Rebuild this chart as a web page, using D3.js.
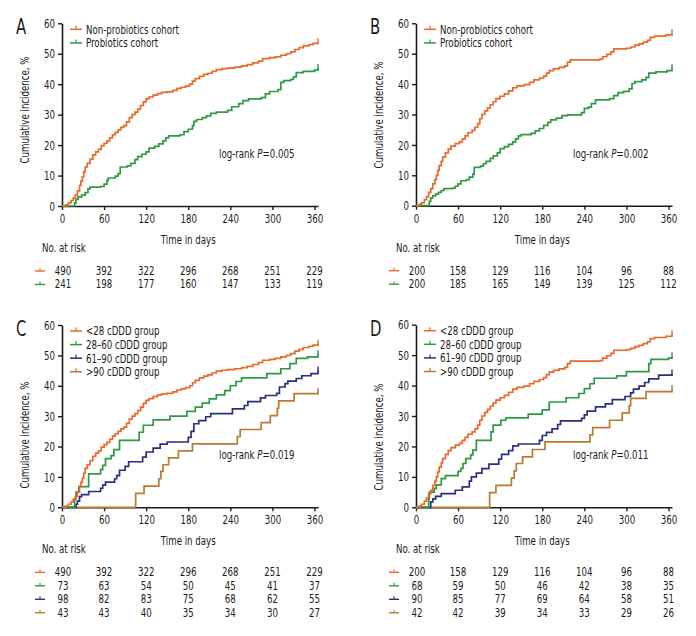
<!DOCTYPE html>
<html><head><meta charset="utf-8">
<script src="https://cdn.jsdelivr.net/npm/d3@7"></script>
<style>
html,body{margin:0;padding:0;background:#fff;}
svg text{font-family:"DejaVu Sans Condensed","Liberation Sans Narrow",sans-serif;font-stretch:condensed;fill:#1a1a1a;}
</style></head>
<body>
<svg id="chart" width="696" height="636"></svg>
<script>
// ---------- DATA ----------
const xTicks = [0, 60, 120, 180, 240, 300, 360];
const yTicks = [0, 10, 20, 30, 40, 50, 60];

// Panel A / C (full cohort: non-probiotics / <28 cDDD, n=490)
const nonProbiotics490 = [[0,0],[5,0.4],[9,1.0],[13,1.8],[16,2.6],[19,3.6],[22,5.0],[25,6.8],[27,8.2],[29,9.6],[31,11.2],[33,12.8],[36,14.0],[40,15.4],[44,16.8],[48,17.8],[52,18.6],[56,19.8],[60,20.6],[64,21.4],[68,22.4],[72,23.4],[76,24.2],[80,25.0],[84,25.8],[88,26.4],[92,27.6],[96,29.0],[100,30.0],[104,30.8],[108,31.8],[112,33.0],[116,34.2],[120,35.2],[124,35.8],[130,36.4],[136,36.9],[142,37.3],[150,37.5],[158,38.0],[164,38.6],[170,39.0],[176,39.4],[182,40.0],[186,41.0],[190,41.8],[196,42.6],[202,43.2],[208,43.6],[214,44.2],[220,44.8],[228,45.1],[236,45.3],[246,45.6],[256,46.0],[264,46.4],[272,47.0],[280,47.6],[286,48.4],[296,48.7],[304,49.0],[312,49.5],[320,50.0],[326,50.6],[332,51.4],[338,52.0],[344,52.6],[352,53.0],[358,53.4],[365,53.8]];
const probiotics241 = [[0,0],[16,0],[18,1.0],[20,2.2],[23,3.0],[28,3.6],[33,4.4],[37,5.6],[40,6.2],[55,6.4],[60,7.2],[64,8.4],[66,9.2],[76,9.8],[80,10.6],[83,12.8],[93,13.2],[98,14.0],[104,15.2],[108,16.2],[114,17.0],[120,17.8],[124,19.0],[132,19.6],[138,20.4],[144,21.4],[148,22.4],[152,23.0],[168,23.4],[174,24.4],[180,25.2],[186,26.4],[188,27.8],[192,28.4],[200,29.0],[206,29.6],[212,30.4],[220,30.8],[236,31.4],[242,32.6],[252,33.6],[258,34.6],[266,35.2],[284,35.6],[290,36.8],[296,37.6],[308,38.2],[312,40.6],[316,41.2],[326,41.6],[330,42.4],[334,43.8],[344,44.2],[360,44.6],[365,45.3]];

// Panel B / D (matched: n=200 each)
const nonProbiotics200 = [[0,0],[5,0.5],[8,1.0],[12,2.0],[15,3.0],[18,4.4],[21,5.6],[24,7.2],[27,8.6],[29,10.0],[31,11.6],[33,13.2],[36,14.6],[38,16.0],[42,17.4],[46,18.6],[50,19.6],[56,20.4],[62,21.0],[66,22.0],[70,23.0],[74,24.0],[80,24.8],[84,25.8],[88,27.0],[91,28.6],[94,30.0],[98,31.2],[102,32.2],[106,33.2],[110,34.2],[114,35.2],[120,36.0],[126,36.8],[132,37.8],[138,38.8],[144,39.4],[154,39.8],[162,40.6],[168,41.4],[176,42.0],[182,42.6],[186,43.6],[190,44.4],[196,45.0],[204,45.5],[212,46.0],[216,47.2],[220,48.0],[262,48.2],[266,49.0],[272,49.8],[278,50.6],[282,51.6],[300,51.8],[306,52.2],[312,52.8],[318,53.2],[324,53.8],[330,54.4],[334,55.4],[340,55.8],[356,56.2],[365,56.8]];
const probiotics200 = [[0,0],[17,0],[19,1.4],[21,2.6],[24,3.2],[28,3.8],[32,4.4],[36,5.0],[40,5.6],[52,5.8],[56,6.4],[60,7.2],[64,8.2],[72,8.6],[76,9.4],[81,10.4],[83,12.6],[92,13.0],[96,13.8],[100,14.6],[106,15.6],[110,16.4],[116,17.4],[120,18.8],[126,19.4],[132,20.2],[138,21.0],[142,22.0],[146,23.0],[150,23.4],[164,23.8],[170,24.6],[176,25.4],[182,26.4],[188,27.4],[192,28.2],[200,28.8],[208,29.6],[216,29.9],[236,30.6],[240,32.0],[246,32.4],[250,33.6],[256,34.8],[276,35.2],[282,36.2],[288,37.2],[296,37.6],[304,38.4],[308,40.2],[312,40.8],[322,41.4],[328,42.2],[332,43.6],[342,44.0],[358,44.4],[365,45.2]];

// Panel C dose groups
const cddd28to60_C = [[0,0],[17,0],[18,2.8],[20,5.0],[24,6.8],[38,11.0],[55,12.4],[58,13.8],[62,16.0],[70,17.0],[74,19.0],[82,22.0],[110,24.7],[116,27.0],[130,28.8],[154,30.0],[178,31.6],[190,33.0],[200,34.3],[210,35.7],[220,37.0],[232,38.4],[240,40.0],[248,41.4],[256,42.6],[292,44.0],[312,45.6],[325,47.3],[334,49.0],[350,49.5],[365,50.4]];
const cddd61to90_C = [[0,0],[19,0],[20,1.0],[22,2.0],[25,3.5],[28,4.2],[38,5.2],[55,6.2],[58,7.3],[62,8.3],[75,9.4],[78,10.4],[82,12.2],[90,13.5],[95,15.0],[115,16.5],[120,18.2],[130,19.5],[140,20.8],[150,21.5],[180,23.0],[184,25.0],[188,27.5],[195,28.5],[205,29.8],[212,30.8],[243,32.4],[260,33.5],[265,34.8],[283,36.0],[290,36.8],[306,37.5],[310,39.6],[318,40.7],[322,41.5],[334,42.4],[342,43.3],[355,44.0],[365,45.0]];
const cdddOver90_C = [[0,0],[104,0],[105,4.6],[117,7.0],[138,9.4],[141,11.8],[144,14.0],[152,16.3],[166,18.6],[186,20.9],[250,23.3],[254,25.6],[284,27.9],[297,30.2],[307,32.6],[309,35.0],[331,37.4],[365,38.0]];

// Panel D dose groups
const cddd28to60_D = [[0,0],[17,0],[18,2.6],[19,5.0],[26,6.2],[29,7.4],[36,9.4],[42,10.4],[60,11.8],[64,12.8],[67,14.4],[71,16.0],[78,17.2],[81,18.8],[86,22.0],[107,24.8],[110,27.0],[121,28.6],[128,29.4],[160,30.6],[180,32.0],[190,34.6],[214,36.0],[232,37.4],[240,39.0],[248,40.6],[254,42.4],[286,43.2],[300,44.6],[332,47.2],[335,48.6],[360,49.0],[365,49.6]];
const cddd61to90_D = [[0,0],[19,0],[21,1.8],[24,2.8],[28,3.6],[36,4.5],[56,5.6],[66,6.7],[76,8.6],[79,10.0],[86,11.2],[94,12.7],[104,14.2],[118,15.8],[122,17.4],[132,18.6],[138,20.2],[146,20.8],[176,22.0],[180,23.6],[186,24.6],[194,25.8],[202,27.2],[206,28.4],[236,29.2],[240,30.4],[244,31.6],[256,33.0],[270,34.0],[280,35.4],[298,36.4],[306,37.6],[310,38.8],[318,39.8],[326,41.0],[332,42.2],[346,43.4],[365,44.0]];
const cdddOver90_D = [[0,0],[104,0],[105,4.8],[114,7.2],[136,9.6],[140,12.0],[143,14.4],[152,16.6],[166,19.0],[184,21.5],[248,23.8],[252,26.2],[276,28.6],[294,31.0],[304,33.4],[306,35.8],[328,38.0],[365,38.8]];

// Numbers at risk
const riskA_non = [490, 392, 322, 296, 268, 251, 229];
const riskA_pro = [241, 198, 177, 160, 147, 133, 119];
const riskB_non = [200, 158, 129, 116, 104, 96, 88];
const riskB_pro = [200, 185, 165, 149, 139, 125, 112];
const riskC_lt28 = [490, 392, 322, 296, 268, 251, 229];
const riskC_28to60 = [73, 63, 54, 50, 45, 41, 37];
const riskC_61to90 = [98, 82, 83, 75, 68, 62, 55];
const riskC_gt90 = [43, 43, 40, 35, 34, 30, 27];
const riskD_lt28 = [200, 158, 129, 116, 104, 96, 88];
const riskD_28to60 = [68, 59, 50, 46, 42, 38, 35];
const riskD_61to90 = [90, 85, 77, 69, 64, 58, 51];
const riskD_gt90 = [42, 42, 39, 34, 33, 29, 26];

const cohortNames = ["Non-probiotics cohort", "Probiotics cohort"];
const doseNames = ["<28 cDDD group", "28\u201360 cDDD group", "61\u201390 cDDD group", ">90 cDDD group"];
const pValues = ["0.005", "0.002", "0.019", "0.011"];
const colors = ["#e8692a", "#2d9a42", "#2b2f82", "#b97a2e"];

// ---------- DRAW ----------
const svg = d3.select("#chart");
svg.append("rect").attr("width", 696).attr("height", 636).attr("fill", "#fff");
const FS = 12.8;
const NARROW = 0.75;

const panels = [
  {label:"A", x0:62, yb:206, yt:23.3, names:cohortNames, series:[nonProbiotics490, probiotics241], risk:[riskA_non, riskA_pro], p:pValues[0], ytitle:110},
  {label:"B", x0:416, yb:205.7, yt:23.3, names:cohortNames, series:[nonProbiotics200, probiotics200], risk:[riskB_non, riskB_pro], p:pValues[1], ytitle:115},
  {label:"C", x0:62, yb:507.3, yt:325, names:doseNames, series:[nonProbiotics490, cddd28to60_C, cddd61to90_C, cdddOver90_C], risk:[riskC_lt28, riskC_28to60, riskC_61to90, riskC_gt90], p:pValues[2], ytitle:435},
  {label:"D", x0:416, yb:507.3, yt:324.7, names:doseNames, series:[nonProbiotics200, cddd28to60_D, cddd61to90_D, cdddOver90_D], risk:[riskD_lt28, riskD_28to60, riskD_61to90, riskD_gt90], p:pValues[3], ytitle:437}
];

panels.forEach(p => {
  const g = svg.append("g");
  const x = d3.scaleLinear().domain([0, 365]).range([p.x0, p.x0 + 252.5 * 365 / 360]);
  const y = d3.scaleLinear().domain([0, 60]).range([p.yb, p.yt]);

  // panel letter
  g.append("text").attr("x", p.x0 - 46).attr("y", p.yt + 11).attr("font-size", 22).text(p.label);

  // y axis
  const ya = g.append("g").attr("transform", `translate(${p.x0},0)`)
    .call(d3.axisLeft(y).tickValues(yTicks).tickSize(4).tickSizeOuter(0).tickPadding(3));
  // x axis
  const xa = g.append("g").attr("transform", `translate(0,${p.yb})`)
    .call(d3.axisBottom(x).tickValues(xTicks).tickSize(4).tickSizeOuter(0).tickPadding(4));
  [ya, xa].forEach(a => {
    a.select(".domain").attr("stroke", "#1a1a1a").attr("stroke-width", 1.6);
    a.selectAll(".tick line").attr("stroke", "#1a1a1a").attr("stroke-width", 1.4);
    a.selectAll(".tick text").attr("font-size", FS).attr("fill", "#1a1a1a")
      .style("font-family", '"DejaVu Sans Condensed","Liberation Sans Narrow",sans-serif');
  });

  // y title
  g.append("text").attr("transform", `translate(${p.x0 - 33},${p.ytitle}) rotate(-90)`)
    .attr("text-anchor", "middle").attr("font-size", FS).text("Cumulative incidence, %");

  // curves
  const line = d3.line().x(d => x(d[0])).y(d => y(d[1])).curve(d3.curveStepAfter);
  p.series.map((s, i) => [s, i]).reverse().forEach(([s, i]) => {
    g.append("path").datum(s).attr("d", line).attr("fill", "none")
      .attr("stroke", colors[i]).attr("stroke-width", 1.7).attr("stroke-linejoin", "miter");
    const last = s[s.length - 1];
    g.append("line").attr("x1", x(last[0])).attr("x2", x(last[0]))
      .attr("y1", y(last[1]) + 1).attr("y2", y(last[1]) - 4)
      .attr("stroke", colors[i]).attr("stroke-width", 1.4);
  });

  // legend
  p.names.forEach((n, i) => {
    const ly = p.yt + 6 + i * 13.6;
    const lx = p.x0 + 8;
    g.append("line").attr("x1", lx).attr("x2", lx + 12).attr("y1", ly).attr("y2", ly)
      .attr("stroke", colors[i]).attr("stroke-width", 1.5);
    g.append("line").attr("x1", lx + 6).attr("x2", lx + 6).attr("y1", ly).attr("y2", ly - 3.5)
      .attr("stroke", colors[i]).attr("stroke-width", 1.2);
    g.append("text").attr("x", lx + 16).attr("y", ly + 4.5).attr("font-size", FS).text(n);
  });

  // log-rank
  const lt = g.append("text").attr("x", p.x0 + 157).attr("y", p.yb - 48).attr("font-size", FS);
  lt.append("tspan").text("log-rank ");
  lt.append("tspan").attr("font-style", "italic").text("P");
  lt.append("tspan").text("=" + p.p);

  // risk table
  const t0 = p.yb + 38;
  g.append("text").attr("x", x(180)).attr("y", t0).attr("text-anchor", "middle").attr("font-size", FS).text("Time in days");
  g.append("text").attr("x", p.x0 - 20).attr("y", t0 + 8).attr("font-size", FS).text("No. at risk");
  p.risk.forEach((r, i) => {
    const ry = t0 + 31 + i * 13.5;
    const lx = p.x0 - 27;
    g.append("line").attr("x1", lx).attr("x2", lx + 10).attr("y1", ry - 4).attr("y2", ry - 4)
      .attr("stroke", colors[i]).attr("stroke-width", 1.4);
    g.append("line").attr("x1", lx + 5).attr("x2", lx + 5).attr("y1", ry - 4).attr("y2", ry - 7)
      .attr("stroke", colors[i]).attr("stroke-width", 1.1);
    r.forEach((v, j) => {
      g.append("text").attr("x", x(xTicks[j]) + (j === 0 ? 1 : 0)).attr("y", ry)
        .attr("text-anchor", "middle").attr("font-size", FS).text(v);
    });
  });
});

// emulate the narrow condensed typeface of the original: squeeze each text horizontally about its anchor
svg.selectAll("text").each(function () {
  const ax = +(this.getAttribute("x") || 0);
  const prev = this.getAttribute("transform") || "";
  this.setAttribute("transform", `${prev} translate(${ax},0) scale(${NARROW},1) translate(${-ax},0)`.trim());
});
</script>
</body></html>
